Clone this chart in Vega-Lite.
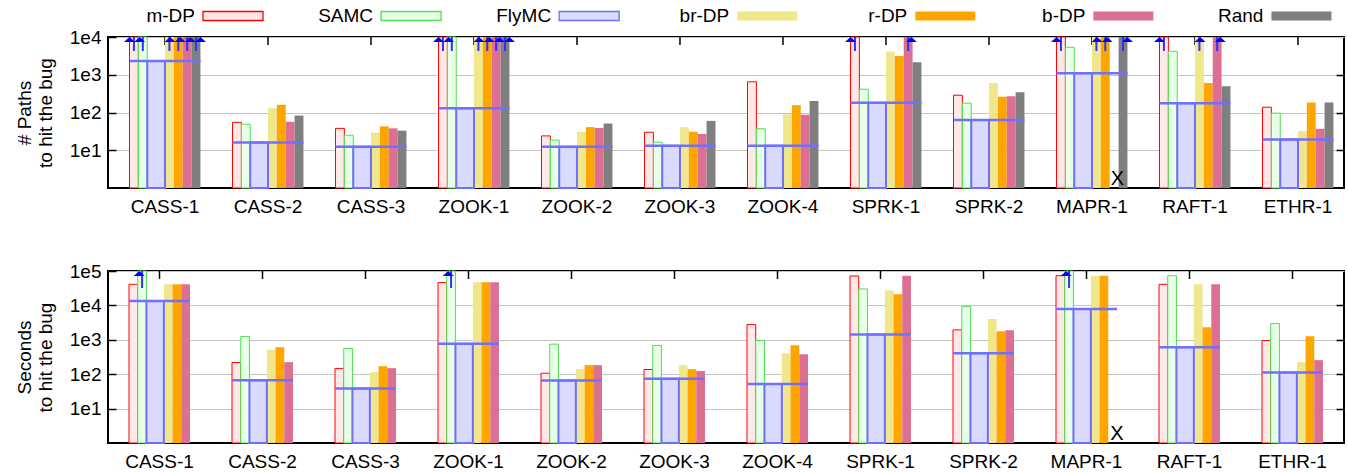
{
"$schema":"https://vega.github.io/schema/vega-lite/v6.json",
"padding":{"left":14,"top":5,"right":5,"bottom":5},
"config":{"font":"Liberation Sans","view":{"stroke":"black","strokeWidth":2},
"axis":{"labelFontSize":19,"titleFontSize":19,"labelColor":"black","titleColor":"black","titleFontWeight":"normal","gridColor":"#c4c4c4","gridWidth":1,"labelFont":"Liberation Sans","titleFont":"Liberation Sans"},
"text":{"font":"Liberation Sans"}},
"datasets":{
"paths":[
{"group":"CASS-1","series":"m-DP","value":10000,"cut":true},{"group":"CASS-1","series":"SAMC","value":10000,"cut":true},{"group":"CASS-1","series":"FlyMC","value":2300},{"group":"CASS-1","series":"br-DP","value":10000,"cut":true},{"group":"CASS-1","series":"r-DP","value":10000,"cut":true},{"group":"CASS-1","series":"b-DP","value":10000,"cut":true},{"group":"CASS-1","series":"Rand","value":10000,"cut":true},
{"group":"CASS-2","series":"m-DP","value":55},{"group":"CASS-2","series":"SAMC","value":49},{"group":"CASS-2","series":"FlyMC","value":16},{"group":"CASS-2","series":"br-DP","value":130},{"group":"CASS-2","series":"r-DP","value":160},{"group":"CASS-2","series":"b-DP","value":57},{"group":"CASS-2","series":"Rand","value":83},
{"group":"CASS-3","series":"m-DP","value":38},{"group":"CASS-3","series":"SAMC","value":25},{"group":"CASS-3","series":"FlyMC","value":12.4},{"group":"CASS-3","series":"br-DP","value":29},{"group":"CASS-3","series":"r-DP","value":43},{"group":"CASS-3","series":"b-DP","value":38},{"group":"CASS-3","series":"Rand","value":33},
{"group":"ZOOK-1","series":"m-DP","value":10000,"cut":true},{"group":"ZOOK-1","series":"SAMC","value":10000,"cut":true},{"group":"ZOOK-1","series":"FlyMC","value":130},{"group":"ZOOK-1","series":"br-DP","value":10000,"cut":true},{"group":"ZOOK-1","series":"r-DP","value":10000,"cut":true},{"group":"ZOOK-1","series":"b-DP","value":10000,"cut":true},{"group":"ZOOK-1","series":"Rand","value":10000,"cut":true},
{"group":"ZOOK-2","series":"m-DP","value":24},{"group":"ZOOK-2","series":"SAMC","value":18.6},{"group":"ZOOK-2","series":"FlyMC","value":12.4},{"group":"ZOOK-2","series":"br-DP","value":31},{"group":"ZOOK-2","series":"r-DP","value":41},{"group":"ZOOK-2","series":"b-DP","value":39},{"group":"ZOOK-2","series":"Rand","value":51},
{"group":"ZOOK-3","series":"m-DP","value":30},{"group":"ZOOK-3","series":"SAMC","value":16.4},{"group":"ZOOK-3","series":"FlyMC","value":13.2},{"group":"ZOOK-3","series":"br-DP","value":41},{"group":"ZOOK-3","series":"r-DP","value":31},{"group":"ZOOK-3","series":"b-DP","value":27},{"group":"ZOOK-3","series":"Rand","value":60},
{"group":"ZOOK-4","series":"m-DP","value":650},{"group":"ZOOK-4","series":"SAMC","value":37},{"group":"ZOOK-4","series":"FlyMC","value":13.2},{"group":"ZOOK-4","series":"br-DP","value":90},{"group":"ZOOK-4","series":"r-DP","value":156},{"group":"ZOOK-4","series":"b-DP","value":87},{"group":"ZOOK-4","series":"Rand","value":203},
{"group":"SPRK-1","series":"m-DP","value":10000,"cut":true},{"group":"SPRK-1","series":"SAMC","value":414},{"group":"SPRK-1","series":"FlyMC","value":180},{"group":"SPRK-1","series":"br-DP","value":4100},{"group":"SPRK-1","series":"r-DP","value":3150},{"group":"SPRK-1","series":"b-DP","value":10000,"cut":true},{"group":"SPRK-1","series":"Rand","value":2140},
{"group":"SPRK-2","series":"m-DP","value":287},{"group":"SPRK-2","series":"SAMC","value":177},{"group":"SPRK-2","series":"FlyMC","value":63},{"group":"SPRK-2","series":"br-DP","value":608},{"group":"SPRK-2","series":"r-DP","value":260},{"group":"SPRK-2","series":"b-DP","value":270},{"group":"SPRK-2","series":"Rand","value":345},
{"group":"MAPR-1","series":"m-DP","value":10000,"cut":true},{"group":"MAPR-1","series":"SAMC","value":5330},{"group":"MAPR-1","series":"FlyMC","value":1100},{"group":"MAPR-1","series":"br-DP","value":10000,"cut":true},{"group":"MAPR-1","series":"r-DP","value":10000,"cut":true},{"group":"MAPR-1","series":"Rand","value":10000,"cut":true},
{"group":"RAFT-1","series":"m-DP","value":10000,"cut":true},{"group":"RAFT-1","series":"SAMC","value":4180},{"group":"RAFT-1","series":"FlyMC","value":177},{"group":"RAFT-1","series":"br-DP","value":10000,"cut":true},{"group":"RAFT-1","series":"r-DP","value":608},{"group":"RAFT-1","series":"b-DP","value":10000,"cut":true},{"group":"RAFT-1","series":"Rand","value":497},
{"group":"ETHR-1","series":"m-DP","value":138},{"group":"ETHR-1","series":"SAMC","value":96},{"group":"ETHR-1","series":"FlyMC","value":19.3},{"group":"ETHR-1","series":"br-DP","value":32},{"group":"ETHR-1","series":"r-DP","value":184},{"group":"ETHR-1","series":"b-DP","value":37},{"group":"ETHR-1","series":"Rand","value":184}
],
"secs":[
{"group":"CASS-1","series":"m-DP","value":41000},{"group":"CASS-1","series":"SAMC","value":100000,"cut":true},{"group":"CASS-1","series":"FlyMC","value":13500},{"group":"CASS-1","series":"br-DP","value":41000},{"group":"CASS-1","series":"r-DP","value":41000},{"group":"CASS-1","series":"b-DP","value":41000},
{"group":"CASS-2","series":"m-DP","value":219},{"group":"CASS-2","series":"SAMC","value":1244},{"group":"CASS-2","series":"FlyMC","value":67},{"group":"CASS-2","series":"br-DP","value":510},{"group":"CASS-2","series":"r-DP","value":610},{"group":"CASS-2","series":"b-DP","value":224},
{"group":"CASS-3","series":"m-DP","value":147},{"group":"CASS-3","series":"SAMC","value":558},{"group":"CASS-3","series":"FlyMC","value":38.5},{"group":"CASS-3","series":"br-DP","value":115},{"group":"CASS-3","series":"r-DP","value":171},{"group":"CASS-3","series":"b-DP","value":150},
{"group":"ZOOK-1","series":"m-DP","value":46000},{"group":"ZOOK-1","series":"SAMC","value":100000,"cut":true},{"group":"ZOOK-1","series":"FlyMC","value":762},{"group":"ZOOK-1","series":"br-DP","value":47000},{"group":"ZOOK-1","series":"r-DP","value":47000},{"group":"ZOOK-1","series":"b-DP","value":47000},
{"group":"ZOOK-2","series":"m-DP","value":107},{"group":"ZOOK-2","series":"SAMC","value":745},{"group":"ZOOK-2","series":"FlyMC","value":66},{"group":"ZOOK-2","series":"br-DP","value":140},{"group":"ZOOK-2","series":"r-DP","value":183},{"group":"ZOOK-2","series":"b-DP","value":183},
{"group":"ZOOK-3","series":"m-DP","value":137},{"group":"ZOOK-3","series":"SAMC","value":682},{"group":"ZOOK-3","series":"FlyMC","value":74},{"group":"ZOOK-3","series":"br-DP","value":183},{"group":"ZOOK-3","series":"r-DP","value":140},{"group":"ZOOK-3","series":"b-DP","value":123},
{"group":"ZOOK-4","series":"m-DP","value":2770},{"group":"ZOOK-4","series":"SAMC","value":953},{"group":"ZOOK-4","series":"FlyMC","value":51.5},{"group":"ZOOK-4","series":"br-DP","value":408},{"group":"ZOOK-4","series":"r-DP","value":697},{"group":"ZOOK-4","series":"b-DP","value":382},
{"group":"SPRK-1","series":"m-DP","value":71600},{"group":"SPRK-1","series":"SAMC","value":30000},{"group":"SPRK-1","series":"FlyMC","value":1420},{"group":"SPRK-1","series":"br-DP","value":26900},{"group":"SPRK-1","series":"r-DP","value":21000},{"group":"SPRK-1","series":"b-DP","value":73000},
{"group":"SPRK-2","series":"m-DP","value":1940},{"group":"SPRK-2","series":"SAMC","value":9230},{"group":"SPRK-2","series":"FlyMC","value":408},{"group":"SPRK-2","series":"br-DP","value":4050},{"group":"SPRK-2","series":"r-DP","value":1775},{"group":"SPRK-2","series":"b-DP","value":1900},
{"group":"MAPR-1","series":"m-DP","value":73000},{"group":"MAPR-1","series":"SAMC","value":100000,"cut":true},{"group":"MAPR-1","series":"FlyMC","value":7900},{"group":"MAPR-1","series":"br-DP","value":73000},{"group":"MAPR-1","series":"r-DP","value":73000},
{"group":"RAFT-1","series":"m-DP","value":41000},{"group":"RAFT-1","series":"SAMC","value":73000},{"group":"RAFT-1","series":"FlyMC","value":610},{"group":"RAFT-1","series":"br-DP","value":41000},{"group":"RAFT-1","series":"r-DP","value":2320},{"group":"RAFT-1","series":"b-DP","value":41000},
{"group":"ETHR-1","series":"m-DP","value":953},{"group":"ETHR-1","series":"SAMC","value":2965},{"group":"ETHR-1","series":"FlyMC","value":112},{"group":"ETHR-1","series":"br-DP","value":224},{"group":"ETHR-1","series":"r-DP","value":1270},{"group":"ETHR-1","series":"b-DP","value":256}
],
"missing":[{"group":"MAPR-1","series":"b-DP","label":"X"}],
"legend":[{"series":"m-DP"},{"series":"SAMC"},{"series":"FlyMC"},{"series":"br-DP"},{"series":"r-DP"},{"series":"b-DP"},{"series":"Rand"}]
},
"spacing":0,
"vconcat":[
{
"width":1236,"height":22,
"view":{"stroke":null},
"data":{"name":"legend"},
"encoding":{"x":{"field":"series","type":"nominal","sort":null,"scale":{"type":"point","domain":["m-DP","SAMC","FlyMC","br-DP","r-DP","b-DP","Rand"],"padding":0.4705,"align":0.746},"axis":null}},
"layer":[
{"mark":{"type":"point","shape":"M-1,-0.15H1V0.15H-1Z","size":3600,"opacity":1,"strokeWidth":1.3},
"encoding":{"fill":{"field":"series","type":"nominal","legend":null,"scale":{"domain":["m-DP","SAMC","FlyMC","br-DP","r-DP","b-DP","Rand"],"range":["#ffe8e8","#e8ffe8","#dadaff","#f0e68c","#ffa500","#db7093","#7f7f7f"]}},
"stroke":{"field":"series","type":"nominal","legend":null,"scale":{"domain":["m-DP","SAMC","FlyMC","br-DP","r-DP","b-DP","Rand"],"range":["#ff0000","#4fe04f","#6e6eff","transparent","transparent","transparent","transparent"]}}}},
{"mark":{"type":"text","align":"right","baseline":"middle","dx":-38,"fontSize":19,"color":"black"},"encoding":{"text":{"field":"series","type":"nominal"}}}
]
},
{
"spacing":44,
"vconcat":[
{
"width":1236,"height":151,
"data":{"name":"paths"},
"encoding":{
"x":{"field":"group","type":"nominal","sort":null,"scale":{"domain":["CASS-1","CASS-2","CASS-3","ZOOK-1","ZOOK-2","ZOOK-3","ZOOK-4","SPRK-1","SPRK-2","MAPR-1","RAFT-1","ETHR-1"],"paddingInner":0.311,"paddingOuter":0.1555,"align":0.671},"axis":{"title":null,"labelAngle":0,"ticks":false,"domain":false,"labelPadding":9,"grid":false}}
},
"resolve":{"scale":{"xOffset":"independent"},"axis":{"y":"independent"}},
"layer":[
{"mark":{"type":"rule","stroke":"black","strokeWidth":1.5},"transform":[{"filter":"datum.series==='FlyMC'"}],
"encoding":{"y":{"datum":10000,"type":"quantitative","axis":{"orient":"right","title":null,"labels":false,"values":[10,100,1000],"ticks":true,"tickSize":-8,"tickColor":"black","tickWidth":1.5,"domain":false,"grid":false}},"y2":{"datum":6140}}},
{"mark":{"type":"bar","strokeWidth":1},"transform":[{"filter":"datum.series!=='FlyMC'"}],
"encoding":{"y":{"field":"value","type":"quantitative","scale":{"type":"log","domain":[1,10000],"nice":false},"axis":{"title":["# Paths","to hit the bug"],"values":[10,100,1000,10000],"labelExpr":"'1e'+round(log(datum.value)/LN10)","ticks":true,"tickSize":-8,"tickColor":"black","tickWidth":1.5,"domain":false,"grid":true,"labelPadding":15,"titlePadding":14,"titleLineHeight":21}},
"xOffset":{"field":"series","type":"nominal","sort":null,"scale":{"domain":["m-DP","SAMC","F1","F2","br-DP","r-DP","b-DP","Rand"],"paddingInner":0,"paddingOuter":0}},
"y2":{"datum":1},
"fill":{"field":"series","type":"nominal","legend":null,"scale":{"domain":["m-DP","SAMC","br-DP","r-DP","b-DP","Rand"],"range":["#ffe8e8","#e8ffe8","#f0e68c","#ffa500","#db7093","#7f7f7f"]}},
"stroke":{"field":"series","type":"nominal","legend":null,"scale":{"domain":["m-DP","SAMC","br-DP","r-DP","b-DP","Rand"],"range":["#ff0000","#4fe04f","transparent","transparent","transparent","transparent"]}}}},
{"mark":{"type":"bar","fill":"#dadaff","stroke":"#6e6eff","strokeWidth":2},"transform":[{"filter":"datum.series==='FlyMC'"}],
"encoding":{"y":{"field":"value","type":"quantitative","axis":null},"xOffset":{"field":"series","type":"nominal","sort":null,"scale":{"domain":["_a","FlyMC","_b","_c"],"paddingInner":0,"paddingOuter":0}},"y2":{"datum":1}}},
{"mark":{"type":"tick","size":71,"thickness":2.5,"color":"#7070ff","opacity":1},"transform":[{"filter":"datum.series==='FlyMC'"}],
"encoding":{"y":{"field":"value","type":"quantitative","axis":null}}},
{"mark":{"type":"rule","stroke":"#3030ff","strokeWidth":2},"transform":[{"filter":"datum.cut"}],
"encoding":{"y":{"field":"value","type":"quantitative","axis":null},"xOffset":{"field":"series","type":"nominal","sort":null,"scale":{"domain":["m-DP","SAMC","F1","F2","br-DP","r-DP","b-DP","Rand"],"paddingInner":0,"paddingOuter":0}},"y2":{"datum":4255}}},
{"mark":{"type":"point","shape":"M-1,0.9L1,0.9L0,0Z","size":121,"filled":true,"color":"#0000ff","opacity":1},"transform":[{"filter":"datum.cut"}],
"encoding":{"y":{"field":"value","type":"quantitative","axis":null},"xOffset":{"field":"series","type":"nominal","sort":null,"scale":{"domain":["m-DP","SAMC","F1","F2","br-DP","r-DP","b-DP","Rand"],"paddingInner":0,"paddingOuter":0}}}},
{"data":{"name":"missing"},"mark":{"type":"text","fontSize":20,"baseline":"middle","color":"black","invalid":"show"},
"encoding":{"xOffset":{"field":"series","type":"nominal","sort":null,"scale":{"domain":["m-DP","SAMC","F1","F2","br-DP","r-DP","b-DP","Rand"],"paddingInner":0,"paddingOuter":0}},"y":{"datum":1.75,"type":"quantitative","axis":null},"text":{"field":"label","type":"nominal"}}}
]
},
{
"width":1236,"height":172,
"data":{"name":"secs"},
"encoding":{
"x":{"field":"group","type":"nominal","sort":null,"scale":{"domain":["CASS-1","CASS-2","CASS-3","ZOOK-1","ZOOK-2","ZOOK-3","ZOOK-4","SPRK-1","SPRK-2","MAPR-1","RAFT-1","ETHR-1"],"paddingInner":0.408,"paddingOuter":0.204,"align":0.5},"axis":{"title":null,"labelAngle":0,"ticks":false,"domain":false,"labelPadding":9,"grid":false}}
},
"resolve":{"scale":{"xOffset":"independent"},"axis":{"y":"independent"}},
"layer":[
{"mark":{"type":"rule","stroke":"black","strokeWidth":1.5},"transform":[{"filter":"datum.series==='FlyMC'"}],
"encoding":{"y":{"datum":100000,"type":"quantitative","axis":{"orient":"right","title":null,"labels":false,"values":[10,100,1000,10000],"ticks":true,"tickSize":-8,"tickColor":"black","tickWidth":1.5,"domain":false,"grid":false}},"y2":{"datum":58500}}},
{"mark":{"type":"bar","strokeWidth":1},"transform":[{"filter":"datum.series!=='FlyMC'"}],
"encoding":{"y":{"field":"value","type":"quantitative","scale":{"type":"log","domain":[1,100000],"nice":false},"axis":{"title":["Seconds","to hit the bug"],"values":[10,100,1000,10000,100000],"labelExpr":"'1e'+round(log(datum.value)/LN10)","ticks":true,"tickSize":-8,"tickColor":"black","tickWidth":1.5,"domain":false,"grid":true,"labelPadding":15,"titlePadding":14,"titleLineHeight":21}},
"xOffset":{"field":"series","type":"nominal","sort":null,"scale":{"domain":["m-DP","SAMC","F1","F2","br-DP","r-DP","b-DP"],"paddingInner":0,"paddingOuter":0}},
"y2":{"datum":1},
"fill":{"field":"series","type":"nominal","legend":null,"scale":{"domain":["m-DP","SAMC","br-DP","r-DP","b-DP"],"range":["#ffe8e8","#e8ffe8","#f0e68c","#ffa500","#db7093"]}},
"stroke":{"field":"series","type":"nominal","legend":null,"scale":{"domain":["m-DP","SAMC","br-DP","r-DP","b-DP"],"range":["#ff0000","#4fe04f","transparent","transparent","transparent"]}}}},
{"mark":{"type":"bar","fill":"#dadaff","stroke":"#6e6eff","strokeWidth":2},"transform":[{"filter":"datum.series==='FlyMC'"}],
"encoding":{"y":{"field":"value","type":"quantitative","axis":null},"xOffset":{"field":"series","type":"nominal","sort":null,"scale":{"domain":["_a","FlyMC","_b"],"paddingInner":0,"paddingOuter":0.25,"align":0}},"y2":{"datum":1}}},
{"mark":{"type":"tick","size":61,"thickness":2.5,"color":"#7070ff","opacity":1},"transform":[{"filter":"datum.series==='FlyMC'"}],
"encoding":{"y":{"field":"value","type":"quantitative","axis":null}}},
{"mark":{"type":"rule","stroke":"#3030ff","strokeWidth":2},"transform":[{"filter":"datum.cut"}],
"encoding":{"y":{"field":"value","type":"quantitative","axis":null},"xOffset":{"field":"series","type":"nominal","sort":null,"scale":{"domain":["m-DP","SAMC","F1","F2","br-DP","r-DP","b-DP"],"paddingInner":0,"paddingOuter":0}},"y2":{"datum":32000}}},
{"mark":{"type":"point","shape":"M-1,0.9L1,0.9L0,0Z","size":121,"filled":true,"color":"#0000ff","opacity":1},"transform":[{"filter":"datum.cut"}],
"encoding":{"y":{"field":"value","type":"quantitative","axis":null},"xOffset":{"field":"series","type":"nominal","sort":null,"scale":{"domain":["m-DP","SAMC","F1","F2","br-DP","r-DP","b-DP"],"paddingInner":0,"paddingOuter":0}}}},
{"data":{"name":"missing"},"mark":{"type":"text","fontSize":20,"baseline":"middle","color":"black","invalid":"show"},
"encoding":{"xOffset":{"field":"series","type":"nominal","sort":null,"scale":{"domain":["m-DP","SAMC","F1","F2","br-DP","r-DP","b-DP"],"paddingInner":0,"paddingOuter":0}},"y":{"datum":1.8,"type":"quantitative","axis":null},"text":{"field":"label","type":"nominal"}}}
]
}
]
}
]
}
